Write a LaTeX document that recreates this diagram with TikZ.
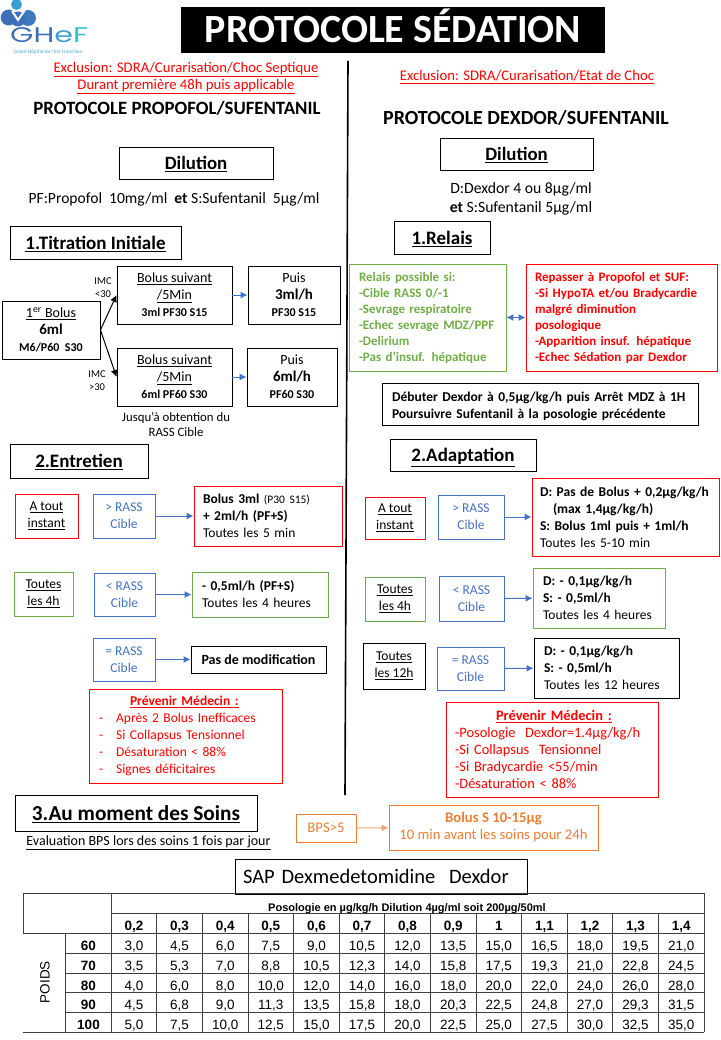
\documentclass[tikz,border=0pt]{standalone}
\usepackage{fontspec}
\setmainfont{Carlito}
\newfontfamily\tabfont{Liberation Sans}
\newfontfamily\logofont{Poppins}
\usetikzlibrary{arrows.meta,calc,positioning}
\definecolor{myblue}{HTML}{4472C4}
\definecolor{mygreen}{HTML}{70AD47}
\definecolor{myorange}{HTML}{ED7D31}
\definecolor{logoa}{HTML}{3F6FB8}
\definecolor{logob}{HTML}{38A0D0}
\definecolor{logoc}{HTML}{2DBFD2}
\newcommand{\bx}[1]{\textbf{#1}}
\begin{document}
\begin{tikzpicture}[x=1pt, y=-1pt, >={Latex[length=7pt,width=7pt]},
    txt/.style={inner sep=0pt, align=center, font=\fontsize{14.7}{17}\selectfont},
    box/.style={draw, line width=0.9pt, inner sep=0pt, align=center, font=\fontsize{13.5}{17}\selectfont},
    lowtxt/.style={execute at begin node={\rule{0pt}{14pt}}},
    head/.style={box, text depth=0pt, font=\fontsize{19}{22}\selectfont\bfseries},
    redbox/.style={box, draw=red},
    greenbox/.style={box, draw=mygreen},
    bluebox/.style={box, draw=myblue, text=myblue},
    orangebox/.style={box, draw=myorange, text=myorange, font=\fontsize{14.7}{17}\selectfont},
    lft/.style={align=left, text width=#1},
    arr/.style={->, draw=myblue, line width=1pt},
    blk/.style={->, line width=1pt},
    bolusbox/.style={box, lowtxt, minimum height=58pt, font=\fontsize{14}{17}\selectfont},
    tabline/.style={line width=0.9pt, black!75},
    cell/.style={inner sep=0pt, anchor=base, font=\tabfont\fontsize{13.5}{14}\selectfont}]

    \useasboundingbox (0,0) rectangle (720,1040);

    % logo
    \fill[logoa] (8.7,17.5) circle (8);
    \fill[logoa!80!logob] (28,18) circle (8);
    \fill[logoa] (18,19) circle (7.5);
    \fill[logob] (16.5,4.5) circle (5.5);
    \draw[white, line width=2pt] (12,11) -- (18,20) -- (25,10);
    \node[inner sep=0pt, anchor=west] (logo) at (10,35.5)
      {\resizebox{78pt}{15pt}{\logofont\textcolor{logoa}{GH}\textcolor{logob}{e}\textcolor{logoc}{F}}};
    \node[inner sep=0pt, text=logob!70!white, font=\fontsize{5.2}{5}\selectfont\bfseries] (logosub) at (48,52)
      {Grand Hôpital de l'Est Francilien};

    % title
    \node[fill=black, text=white, minimum width=424pt, minimum height=46pt, inner sep=0pt, text height=30pt, text depth=5pt,
      font=\fontsize{40}{40}\selectfont\bfseries] (title) at (393,30) {PROTOCOLE SÉDATION};
    \coordinate (septop) at (348,61);
    \coordinate (sepbot) at (345,795);
    \draw[line width=1.6pt] (septop) -- (sepbot);

    % left column
    \node[txt, text=red] (exclA) at (186,78) {\underline{Exclusion: SDRA/Curarisation/Choc Septique}\\\underline{Durant première 48h puis applicable}};
    \node[txt, font=\fontsize{18.8}{20}\selectfont\bfseries] (protA) at (177,108) {PROTOCOLE PROPOFOL/SUFENTANIL};
    \node[head, font=\fontsize{18.8}{20}\selectfont\bfseries, minimum width=154pt, minimum height=32pt] (dilA) at (196,163) {\underline{Dilution}};
    \node[txt, font=\fontsize{15.6}{17}\selectfont] (dilAtxt) at (174,199) {PF:Propofol\ \ 10mg/ml\ \ \bx{et} S:Sufentanil\ \ 5µg/ml};

    \node[head, minimum width=171pt, minimum height=33pt] (titr) at (95.5,242.5) {\underline{1.Titration Initiale}};
    \node[bolusbox, minimum width=98pt] (bolus) at (51,330) {\underline{1\textsuperscript{er} Bolus}\\\bx{\fontsize{15}{17}\selectfont 6ml}\\\bx{\fontsize{12}{17}\selectfont M6/P60\ \ S30}};
    \node[bolusbox, minimum width=115pt] (suivA) at (174.5,295) {\underline{Bolus suivant}\\\underline{/5Min}\\\bx{\fontsize{12}{17}\selectfont 3ml PF30 S15}};
    \node[bolusbox, minimum width=92pt] (puisA) at (294,295) {Puis\\\bx{\fontsize{15}{17}\selectfont 3ml/h}\\\bx{\fontsize{12}{17}\selectfont PF30 S15}};
    \node[bolusbox, minimum width=115pt] (suivB) at (174.5,377) {\underline{Bolus suivant}\\\underline{/5Min}\\\bx{\fontsize{12}{17}\selectfont 6ml PF60 S30}};
    \node[bolusbox, minimum width=90pt] (puisB) at (292,377) {Puis\\\bx{\fontsize{15}{17}\selectfont 6ml/h}\\\bx{\fontsize{12}{17}\selectfont PF60 S30}};
    \draw[arr] (suivA) -- (puisA);
    \draw[arr] (suivB) -- (puisB);
    \draw[blk] (bolus.east) -- (suivA.west);
    \draw[blk] (bolus.east) -- (suivB.west);
    \node[txt, font=\fontsize{10.5}{13}\selectfont] (imcA) at (103,288) {IMC\\<30};
    \node[txt, font=\fontsize{10.5}{13}\selectfont] (imcB) at (97,381) {IMC\\>30};
    \node[txt, font=\fontsize{12.8}{15}\selectfont] (jusq) at (176,425) {Jusqu'à obtention du\\RASS Cible};

    \node[head, minimum width=138pt, minimum height=34pt] (entr) at (79,461) {\underline{2.Entretien}};
    \node[redbox, lowtxt, minimum width=63pt, minimum height=44pt] (toutA) at (46.5,516) {\underline{A tout}\\\underline{instant}};
    \node[bluebox, lowtxt, minimum width=62pt, minimum height=44pt] (supA) at (124,516) {> RASS\\Cible};
    \node[redbox, lft=130pt, minimum width=148pt, minimum height=60pt] (actA) at (268,516) {\bx{Bolus 3ml} {\fontsize{11.5}{17}\selectfont (P30 S15)}\\\bx{+ 2ml/h (PF+S)}\\Toutes les 5 min};
    \node[greenbox, lowtxt, minimum width=59pt, minimum height=44pt] (quatA) at (43.5,594) {\underline{Toutes}\\\underline{les 4h}};
    \node[bluebox, lowtxt, minimum width=61pt, minimum height=43pt] (infA) at (124.5,594.5) {< RASS\\Cible};
    \node[greenbox, lft=116pt, minimum width=136pt, minimum height=45pt] (actB) at (260,594.5) {\bx{- 0,5ml/h (PF+S)}\\Toutes les 4 heures};
    \node[bluebox, minimum width=62pt, minimum height=43pt] (egaA) at (124,659.5) {= RASS\\Cible};
    \node[box, minimum width=135pt, minimum height=27pt, font=\fontsize{14}{17}\selectfont] (actC) at (258.5,659.5) {\bx{Pas de modification}};
    \draw[arr] (supA) -- (actA);
    \draw[arr] (infA) -- (actB);
    \draw[arr] (egaA) -- (actC);
    \node[redbox, text=red, minimum width=193pt, minimum height=94pt, lft=173pt] (prevA) at (185.5,736)
      {\hspace*{31pt}\bx{\underline{Prévenir Médecin :}}\\-\hspace{13pt}Après 2 Bolus Inefficaces\\-\hspace{13pt}Si Collapsus Tensionnel\\-\hspace{13pt}Désaturation < 88\%\\-\hspace{13pt}Signes déficitaires};

    % right column
    \node[txt, text=red] (exclB) at (527,77) {\underline{Exclusion: SDRA/Curarisation/Etat de Choc}};
    \node[txt, font=\fontsize{20}{22}\selectfont\bfseries] (protB) at (526,118) {PROTOCOLE DEXDOR/SUFENTANIL};
    \node[head, font=\fontsize{18.8}{20}\selectfont\bfseries, minimum width=153pt, minimum height=32pt] (dilB) at (516.5,154) {\underline{Dilution}};
    \node[txt, font=\fontsize{15.7}{19}\selectfont] (dilBtxt) at (521,199) {D:Dexdor 4 ou 8µg/ml\\\bx{et} S:Sufentanil 5µg/ml};

    \node[head, minimum width=96pt, minimum height=33pt] (rel) at (442,238) {\underline{1.Relais}};
    \node[greenbox, text=mygreen, lft=137pt, minimum width=157pt, minimum height=107pt, font=\fontsize{13}{16}\selectfont\bfseries] (possA) at (427.5,317.5)
      {Relais possible si:\\-Cible RASS 0/-1\\-Sevrage respiratoire\\-Echec sevrage MDZ/PPF\\-Delirium\\-Pas d’insuf. hépatique};
    \node[redbox, text=red, lft=173pt, minimum width=191pt, minimum height=107pt, font=\fontsize{13}{16}\selectfont\bfseries] (repas) at (621.5,317.5)
      {Repasser à Propofol et SUF:\\-Si HypoTA et/ou Bradycardie\\malgré diminution\\posologique\\-Apparition insuf. hépatique\\-Echec Sédation par Dexdor};
    \draw[<->, draw=myblue, line width=1pt] (possA) -- (repas);
    \node[box, lowtxt, lft=296pt, minimum width=316pt, minimum height=42pt, font=\fontsize{13.5}{17.5}\selectfont\bfseries] (debut) at (540,404)
      {Débuter Dexdor à 0,5µg/kg/h puis Arrêt MDZ à 1H\\Poursuivre Sufentanil à la posologie précédente};

    \node[head, minimum width=146pt, minimum height=32pt] (adap) at (463,455) {\underline{2.Adaptation}};
    \node[redbox, lowtxt, minimum width=60pt, minimum height=42pt] (toutB) at (395,518) {\underline{A tout}\\\underline{instant}};
    \node[bluebox, lowtxt, minimum width=66pt, minimum height=44pt] (supB) at (471,517) {> RASS\\Cible};
    \node[redbox, lft=171pt, minimum width=187pt, minimum height=78pt] (actD) at (625.5,517)
      {\bx{D: Pas de Bolus + 0,2µg/kg/h}\\\hspace*{13pt}\bx{(max 1,4µg/kg/h)}\\\bx{S: Bolus 1ml puis + 1ml/h}\\Toutes les 5-10 min};
    \node[greenbox, lowtxt, minimum width=60pt, minimum height=44pt] (quatB) at (395,599) {\underline{Toutes}\\\underline{les 4h}};
    \node[bluebox, minimum width=65pt, minimum height=45pt] (infB) at (471.5,598.5) {< RASS\\Cible};
    \node[greenbox, lft=112pt, minimum width=132pt, minimum height=60pt] (actE) at (599,598) {\bx{D: - 0,1µg/kg/h}\\\bx{S: - 0,5ml/h}\\Toutes les 4 heures};
    \node[box, lowtxt, minimum width=62pt, minimum height=46pt] (douzB) at (394,666) {\underline{Toutes}\\\underline{les 12h}};
    \node[bluebox, minimum width=67pt, minimum height=43pt] (egaB) at (470.5,668.5) {= RASS\\Cible};
    \node[box, lft=125pt, minimum width=145pt, minimum height=60pt] (actF) at (606.5,668) {\bx{D: - 0,1µg/kg/h}\\\bx{S: - 0,5ml/h}\\Toutes les 12 heures};
    \draw[arr] (supB) -- (actD);
    \draw[arr] (infB) -- (actE);
    \draw[arr] (egaB) -- (actF);
    \node[redbox, text=red, lft=194pt, minimum width=212pt, minimum height=95pt, font=\fontsize{14.4}{17}\selectfont] (prevB) at (552,749.5)
      {\hspace*{41pt}\bx{\underline{Prévenir Médecin :}}\\-Posologie\ \ Dexdor=1.4µg/kg/h\\-Si Collapsus\ \ Tensionnel\\-Si Bradycardie <55/min\\-Désaturation < 88\%};

    % soins
    \node[head, font=\fontsize{21.3}{24}\selectfont\bfseries, minimum width=242pt, minimum height=36pt] (soin) at (136,813.5) {\underline{3.Au moment des Soins}};
    \node[txt, font=\fontsize{14}{15}\selectfont] (soinTxt) at (148.5,843) {\underline{Evaluation BPS lors des soins 1 fois par jour}};
    \node[orangebox, minimum width=60pt, minimum height=28pt] (bps) at (326,828) {BPS>5};
    \node[orangebox, minimum width=209pt, minimum height=45pt] (bolS) at (493.5,827.5) {\bx{Bolus S 10-15µg}\\10 min avant les soins pour 24h};
    \draw[->, draw=myorange!70!white, line width=1pt] (bps) -- (bolS);
    \node[box, text depth=0pt, lft=276pt, minimum width=292pt, minimum height=35pt, font=\fontsize{20.5}{24}\selectfont] (sap) at (381,876.5) {SAP Dexmedetomidine\ \ Dexdor};

    % table
    \draw[tabline] (23,893) -- (704,893);
    \draw[tabline] (111.2,913) -- (704,913);
    \draw[tabline] (23,933) -- (704,933);
    \foreach \y in {953,973,992,1012}
      \draw[tabline] (65.3,\y) -- (704,\y);
    \draw[tabline] (23,1032) -- (704,1032);
    \draw[tabline] (23,893) -- (23,933);
    \draw[tabline] (65.3,933) -- (65.3,1032);
    \draw[tabline] (111.2,893) -- (111.2,1032);
    \draw[tabline] (704,893) -- (704,1032);
    \foreach \i in {1,...,12}
      \draw[tabline] (111.2+\i*45.6,913) -- (111.2+\i*45.6,1032);
    \node[cell, font=\tabfont\fontsize{11}{14}\selectfont\bfseries] (poso) at (407,911.5) {Posologie en µg/kg/h Dilution 4µg/ml soit 200µg/50ml};
    \foreach \d [count=\i] in {{0,2},{0,3},{0,4},{0,5},{0,6},{0,7},{0,8},{0,9},1,{1,1},{1,2},{1,3},{1,4}}
      \node[cell, font=\tabfont\fontsize{13.5}{14}\selectfont\bfseries] (dose\i) at (111.2+\i*45.6-22.8,930) {\d};
    \node[inner sep=0pt, rotate=90, font=\tabfont\fontsize{13.5}{16}\selectfont] (poids) at (45,982) {POIDS};
    \foreach \w/\yy/\vals in {
      60/950/{{3,0},{4,5},{6,0},{7,5},{9,0},{10,5},{12,0},{13,5},{15,0},{16,5},{18,0},{19,5},{21,0}},
      70/970/{{3,5},{5,3},{7,0},{8,8},{10,5},{12,3},{14,0},{15,8},{17,5},{19,3},{21,0},{22,8},{24,5}},
      80/990/{{4,0},{6,0},{8,0},{10,0},{12,0},{14,0},{16,0},{18,0},{20,0},{22,0},{24,0},{26,0},{28,0}},
      90/1009/{{4,5},{6,8},{9,0},{11,3},{13,5},{15,8},{18,0},{20,3},{22,5},{24,8},{27,0},{29,3},{31,5}},
      100/1029/{{5,0},{7,5},{10,0},{12,5},{15,0},{17,5},{20,0},{22,5},{25,0},{27,5},{30,0},{32,5},{35,0}}}{
      \node[cell, font=\tabfont\fontsize{13.5}{14}\selectfont\bfseries] (w\w) at (88.5,\yy) {\w};
      \foreach \v [count=\i] in \vals
        \node[cell] (v\w-\i) at (111.2+\i*45.6-22.8,\yy) {\v};
    }
  \end{tikzpicture}
\end{document}
